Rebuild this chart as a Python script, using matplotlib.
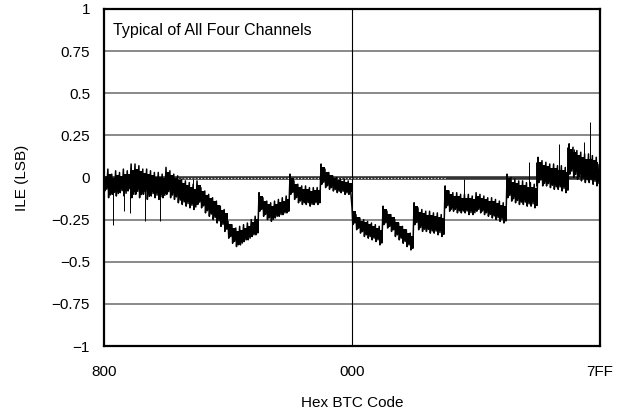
import numpy as np
import matplotlib.pyplot as plt

plt.rcParams['font.family'] = ['Liberation Sans', 'DejaVu Sans']

# ILE: upper / lower edge of each tooth (8 teeth per 256-code block)
ile_hi = [
    0.03, 0.05, 0.02, 0.04, 0.03, 0.05, 0.04, 0.08,
    0.08, 0.07, 0.05, 0.05, 0.04, 0.03, 0.03, 0.02,
    0.06, 0.04, 0.02, 0.01, -0.01, -0.02, -0.03, -0.04,
    -0.02, -0.06, -0.08, -0.10, -0.12, -0.14, -0.17, -0.19,
    -0.26, -0.28, -0.30, -0.29, -0.28, -0.27, -0.25, -0.23,
    -0.09, -0.12, -0.14, -0.15, -0.14, -0.13, -0.12, -0.11,
    0.02, -0.02, -0.04, -0.05, -0.05, -0.06, -0.06, -0.06,
    0.08, 0.05, 0.03, 0.01, 0.00, -0.01, -0.01, -0.02,
    -0.18, -0.22, -0.24, -0.25, -0.26, -0.27, -0.28, -0.29,
    -0.17, -0.20, -0.22, -0.25, -0.27, -0.29, -0.31, -0.33,
    -0.15, -0.18, -0.19, -0.20, -0.20, -0.21, -0.21, -0.22,
    -0.05, -0.08, -0.09, -0.09, -0.10, -0.10, -0.10, -0.11,
    -0.09, -0.10, -0.11, -0.12, -0.12, -0.13, -0.14, -0.15,
    0.02, 0.00, -0.01, -0.02, -0.02, -0.03, -0.03, -0.04,
    0.12, 0.10, 0.09, 0.08, 0.08, 0.07, 0.07, 0.06,
    0.20, 0.18, 0.16, 0.15, 0.14, 0.14, 0.13, 0.12,
]
ile_lo = [
    -0.08, -0.12, -0.10, -0.11, -0.09, -0.11, -0.08, -0.12,
    -0.10, -0.12, -0.10, -0.13, -0.11, -0.12, -0.13, -0.12,
    -0.10, -0.12, -0.13, -0.15, -0.16, -0.17, -0.18, -0.19,
    -0.16, -0.18, -0.21, -0.23, -0.25, -0.27, -0.29, -0.32,
    -0.36, -0.39, -0.41, -0.40, -0.38, -0.37, -0.35, -0.34,
    -0.20, -0.23, -0.25, -0.26, -0.24, -0.23, -0.22, -0.21,
    -0.10, -0.13, -0.15, -0.16, -0.16, -0.17, -0.16, -0.16,
    -0.04, -0.06, -0.07, -0.08, -0.09, -0.09, -0.10, -0.10,
    -0.28, -0.31, -0.33, -0.35, -0.36, -0.37, -0.38, -0.40,
    -0.28, -0.30, -0.32, -0.35, -0.37, -0.39, -0.41, -0.43,
    -0.28, -0.31, -0.32, -0.32, -0.33, -0.33, -0.34, -0.35,
    -0.18, -0.20, -0.20, -0.21, -0.21, -0.21, -0.22, -0.22,
    -0.20, -0.21, -0.22, -0.23, -0.24, -0.25, -0.26, -0.27,
    -0.12, -0.14, -0.15, -0.16, -0.16, -0.17, -0.17, -0.18,
    -0.03, -0.05, -0.05, -0.06, -0.07, -0.07, -0.08, -0.09,
    0.02, 0.00, -0.01, -0.02, -0.03, -0.03, -0.04, -0.05,
]

# isolated glitches (code, from, to)
spike_code = [74, 165, 214, 338, 462, 735, 2975, 3510, 3570, 3760, 3820, 3880, 3965, 4010]
spike_from = [-0.05, -0.05, -0.05, -0.06, -0.06, -0.08, -0.12, -0.05, -0.05, 0.02, 0.02, 0.03, 0.08, 0.08]
spike_to = [-0.28, -0.20, -0.21, -0.26, -0.26, -0.01, -0.01, 0.09, 0.09, 0.20, 0.18, 0.17, 0.21, 0.33]

tick_pos = [0, 2048, 4095]
tick_lab = ['800', '000', '7FF']
y_ticks = [-1, -0.75, -0.5, -0.25, 0, 0.25, 0.5, 0.75, 1]
y_labs = ['\u22121', '\u22120.75', '\u22120.5', '\u22120.25', '0', '0.25', '0.5', '0.75', '1']

hi = np.array(ile_hi)
lo = np.array(ile_lo)
codes = np.arange(len(hi)) * 32
x = np.empty(4 * len(codes))
y = np.empty(4 * len(codes))
x[0::4] = codes
x[1::4] = codes + 6
x[2::4] = codes + 14
x[3::4] = codes + 22
y[0::4] = hi
y[1::4] = lo
y[2::4] = hi - 0.25 * (hi - lo)
y[3::4] = lo + 0.1 * (hi - lo)

# solid core of the trace
mid = (hi + lo) / 2
half = 0.33 * (hi - lo)

fig = plt.figure(figsize=(6.18, 4.16), dpi=100)
ax = fig.add_axes([104 / 618, 1 - 346 / 416, 496 / 618, 337 / 416])

for v in y_ticks[1:-1]:
    if v != 0:
        ax.axhline(v, color='#808080', lw=1.3, zorder=1)
ax.axhline(0, color='#333333', lw=2.6, zorder=1)
ax.hlines(0, 0, 2832, color='white', lw=0.8, linestyles=(0, (1, 2)), zorder=1.5)
ax.axvline(2048, color='black', lw=0.8, zorder=1)

ax.fill_between(codes + 16, mid - half, mid + half, step='mid', color='black', lw=0, zorder=2)
ax.plot(x, y, color='black', lw=1.1, zorder=3)
ax.vlines(spike_code, spike_from, spike_to, color='black', lw=0.7, zorder=3)

ax.set_xlim(0, 4095)
ax.set_ylim(-1, 1)
ax.set_xticks(tick_pos)
ax.set_xticklabels(tick_lab)
ax.set_yticks(y_ticks)
ax.set_yticklabels(y_labs)
ax.tick_params(length=0, labelsize=11)
ax.tick_params(axis='x', pad=14)
ax.tick_params(axis='y', pad=10)
for s in ax.spines.values():
    s.set_linewidth(1.6)

ax.set_xlabel('Hex BTC Code', fontsize=11, labelpad=12)
ax.set_ylabel('ILE (LSB)', fontsize=11, labelpad=16)
ax.text(0.018, 0.935, 'Typical of All Four Channels', transform=ax.transAxes,
        fontsize=11.5, va='center', ha='left')

fig.savefig('out.png', dpi=100)
